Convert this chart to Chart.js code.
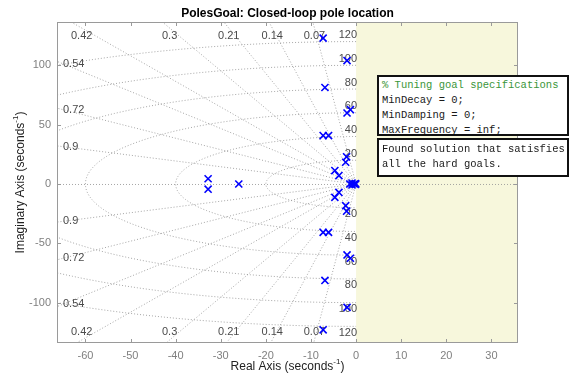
<!DOCTYPE html>
<html>
<head>
<meta charset="utf-8">
<script src="https://cdn.jsdelivr.net/npm/chart.js@4/dist/chart.umd.min.js"></script>
<style>
html,body{margin:0;padding:0;background:#fff;}
#wrap{position:relative;width:571px;height:379px;overflow:hidden;}
canvas{position:absolute;left:0;top:0;}
.box{position:absolute;background:#fff;border:2px solid #111;box-sizing:border-box;overflow:hidden;
 font-family:"Liberation Mono","DejaVu Sans Mono",monospace;font-size:10.5px;line-height:15px;color:#1a1a1a;white-space:pre;}
.cm{color:#3a963a;}
</style>
</head>
<body>
<div id="wrap">
<canvas id="c" width="571" height="379"></canvas>
<div class="box" style="left:377px;top:75px;width:192px;height:61px;padding:1px 0 0 3px;"><span class="cm">% Tuning goal specifications</span>
MinDecay = 0;
MinDamping = 0;
MaxFrequency = inf;</div>
<div class="box" style="left:377px;top:138px;width:192px;height:39px;padding:2px 0 0 3px;">Found solution that satisfies
all the hard goals.</div>
</div>
<script>
// ---- data ----
const titleText = "PolesGoal: Closed-loop pole location";
const xTitle = ["Real Axis (seconds", "-1", ")"];
const yTitle = ["Imaginary Axis (seconds", "-1", ")"];
const xTicks = [-60, -50, -40, -30, -20, -10, 0, 10, 20, 30];
const yTicks = [-100, -50, 0, 50, 100];
const dampingValues = [0.07, 0.14, 0.21, 0.3, 0.42, 0.54, 0.72, 0.9];
const freqValues = [20, 40, 60, 80, 100, 120];
const poleRe = [-7.3, -7.3, -2.0, -2.0, -6.9, -6.9, -2.0, -2.0, -1.25, -1.25,
                -7.3, -7.3, -6.1, -6.1, -2.1, -2.1, -2.3, -2.3, -4.7, -4.7,
                -3.8, -3.8, -32.8, -32.8, -26.0, -0.9, -0.9, -0.4, -0.1, -0.1, -1.4];
const poleIm = [122.9, -122.9, 104, -104, 81.3, -81.3, 59.8, -59.8, 62.6, -62.6,
                40.8, -40.8, 40.8, -40.8, 22.9, -22.9, 18.3, -18.3, 11.3, -11.3,
                7.1, -7.1, 4.4, -4.4, 0, 0.8, -0.8, 0, 0.3, -0.3, 0];
const xRange = [-66.3, 35.9];
const yRange = [-134, 136.5];

const gridColor = 'rgba(150,150,150,0.85)';
const labelColor = '#4a4a4a';
const boxColor = '#9a9a9a';

const sgrid = {
  id: 'sgrid',
  beforeDatasetsDraw(chart) {
    const {ctx, chartArea: a, scales: {x, y}} = chart;
    ctx.save();
    ctx.beginPath();
    ctx.rect(a.left, a.top, a.right - a.left, a.bottom - a.top);
    ctx.clip();
    const x0 = x.getPixelForValue(0), y0 = y.getPixelForValue(0);
    ctx.fillStyle = '#f7f7dc';
    ctx.fillRect(x0, a.top, a.right - x0, a.bottom - a.top);
    ctx.strokeStyle = gridColor;
    ctx.lineWidth = 1;
    ctx.setLineDash([1, 2]);
    // axes lines
    ctx.beginPath(); ctx.moveTo(a.left, y0 + 0.5); ctx.lineTo(a.right, y0 + 0.5); ctx.stroke();
    // damping rays
    const R = 2000;
    dampingValues.forEach(z => {
      const s = Math.sqrt(1 - z * z);
      [1, -1].forEach(sg => {
        ctx.beginPath();
        ctx.moveTo(x0, y0);
        ctx.lineTo(x.getPixelForValue(-z * R), y.getPixelForValue(sg * s * R));
        ctx.stroke();
      });
    });
    // frequency semicircles
    freqValues.forEach(w => {
      ctx.beginPath();
      for (let d = 90; d <= 270; d += 1) {
        const t = d * Math.PI / 180;
        const px = x.getPixelForValue(w * Math.cos(t));
        const py = y.getPixelForValue(w * Math.sin(t));
        if (d === 90) ctx.moveTo(px, py); else ctx.lineTo(px, py);
      }
      ctx.stroke();
    });
    ctx.restore();

    // labels
    ctx.save();
    ctx.fillStyle = labelColor;
    ctx.font = '11px "Liberation Sans", Arial, sans-serif';
    const yAnchorTop = y.getValueForPixel(a.top + 6);
    const xAnchorLeft = x.getValueForPixel(a.left + 6);
    dampingValues.forEach(z => {
      const s = Math.sqrt(1 - z * z);
      const xTop = -yAnchorTop * z / s;
      const txt = String(z);
      if (xTop >= xRange[0] + 2) {
        ctx.textAlign = 'center';
        ctx.textBaseline = 'middle';
        const px = x.getPixelForValue(xTop);
        ctx.fillText(txt, px, y.getPixelForValue(124.5));
        ctx.fillText(txt, px, y.getPixelForValue(-124.5));
      } else {
        const yv = -xAnchorLeft * s / z;
        ctx.textAlign = 'left';
        ctx.textBaseline = 'middle';
        ctx.fillText(txt, a.left + 6, y.getPixelForValue(yv));
        ctx.fillText(txt, a.left + 6, y.getPixelForValue(-yv));
      }
    });
    freqValues.forEach(w => {
      ctx.textAlign = 'right';
      ctx.textBaseline = 'middle';
      ctx.fillText(String(w), x0 + 1, y.getPixelForValue(w) - 6.5);
      ctx.fillText(String(w), x0 + 1, y.getPixelForValue(-w) + 6.5);
    });
    ctx.restore();
  },
  afterDraw(chart) {
    const {ctx, chartArea: a, scales: {x, y}} = chart;
    ctx.save();
    ctx.strokeStyle = boxColor;
    ctx.lineWidth = 1;
    ctx.strokeRect(Math.round(a.left) + 0.5, Math.round(a.top) + 0.5,
                   Math.round(a.right - a.left) - 1, Math.round(a.bottom - a.top) - 1);
    const tl = 4;
    ctx.beginPath();
    xTicks.forEach(v => {
      const px = Math.round(x.getPixelForValue(v)) + 0.5;
      ctx.moveTo(px, a.bottom); ctx.lineTo(px, a.bottom - tl);
      ctx.moveTo(px, a.top); ctx.lineTo(px, a.top + tl);
    });
    yTicks.forEach(v => {
      const py = Math.round(y.getPixelForValue(v)) + 0.5;
      ctx.moveTo(a.left, py); ctx.lineTo(a.left + tl, py);
      ctx.moveTo(a.right, py); ctx.lineTo(a.right - tl, py);
    });
    ctx.stroke();

    // title
    ctx.fillStyle = '#000';
    ctx.font = 'bold 12px "Liberation Sans", Arial, sans-serif';
    ctx.textAlign = 'center';
    ctx.textBaseline = 'middle';
    const cx = (a.left + a.right) / 2;
    ctx.fillText(titleText, cx, 14);

    // axis titles with superscript
    function drawSup(parts, xc, yc) {
      const f1 = '12px "Liberation Sans", Arial, sans-serif';
      const f2 = '8px "Liberation Sans", Arial, sans-serif';
      ctx.font = f1; const w1 = ctx.measureText(parts[0]).width; const w3 = ctx.measureText(parts[2]).width;
      ctx.font = f2; const w2 = ctx.measureText(parts[1]).width;
      let sx = xc - (w1 + w2 + w3) / 2;
      ctx.textAlign = 'left'; ctx.textBaseline = 'middle';
      ctx.fillStyle = '#222';
      ctx.font = f1; ctx.fillText(parts[0], sx, yc); sx += w1;
      ctx.font = f2; ctx.fillText(parts[1], sx, yc - 5); sx += w2;
      ctx.font = f1; ctx.fillText(parts[2], sx, yc);
    }
    drawSup(xTitle, cx, 367);
    ctx.save();
    ctx.translate(21, (a.top + a.bottom) / 2);
    ctx.rotate(-Math.PI / 2);
    drawSup(yTitle, 0, 0);
    ctx.restore();
    ctx.restore();
  }
};

const points = poleRe.map((r, i) => ({x: r, y: poleIm[i]}));

new Chart(document.getElementById('c'), {
  type: 'scatter',
  data: {
    datasets: [{
      data: points,
      pointStyle: 'crossRot',
      radius: 5,
      hoverRadius: 5,
      borderColor: '#0000ff',
      backgroundColor: '#0000ff',
      borderWidth: 1.6
    }]
  },
  options: {
    responsive: false,
    animation: false,
    events: [],
    layout: {padding: {top: 22, right: 53, left: 0, bottom: 0}},
    plugins: {legend: {display: false}, tooltip: {enabled: false}, title: {display: false}},
    scales: {
      x: {
        type: 'linear', min: xRange[0], max: xRange[1],
        afterBuildTicks: s => { s.ticks = xTicks.map(v => ({value: v})); },
        afterFit: s => { s.height = 36; },
        grid: {display: false, drawTicks: false},
        border: {display: false},
        ticks: {color: '#808080', font: {size: 11, family: '"Liberation Sans", Arial, sans-serif'}, padding: 6, maxRotation: 0, autoSkip: false}
      },
      y: {
        type: 'linear', min: yRange[0], max: yRange[1],
        afterBuildTicks: s => { s.ticks = yTicks.map(v => ({value: v})); },
        afterFit: s => { s.width = 57; },
        grid: {display: false, drawTicks: false},
        border: {display: false},
        ticks: {color: '#808080', font: {size: 11, family: '"Liberation Sans", Arial, sans-serif'}, padding: 6, autoSkip: false}
      }
    }
  },
  plugins: [sgrid]
});
</script>
</body>
</html>
